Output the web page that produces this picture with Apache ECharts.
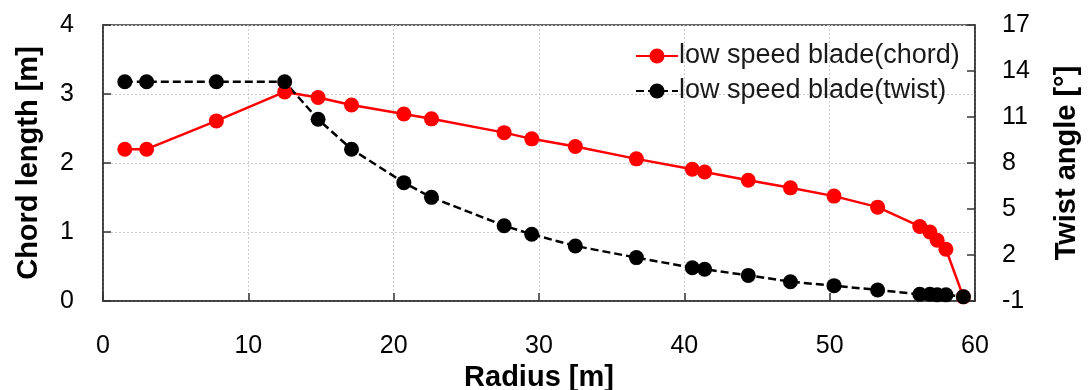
<!DOCTYPE html>
<html><head><meta charset="utf-8">
<script src="https://cdn.jsdelivr.net/npm/echarts@6/dist/echarts.min.js"></script>
<style>html,body{margin:0;padding:0;background:#fff}#c{width:1088px;height:390px}</style>
</head><body><div id="c"></div>
<script>
const radius = [1.5, 3.0, 7.8, 12.5, 14.8, 17.1, 20.7, 22.6, 27.6, 29.5, 32.5, 36.7, 40.55, 41.4, 44.4, 47.3, 50.3, 53.3, 56.2, 56.9, 57.4, 58.0, 59.2];
const chord = [2.20, 2.20, 2.61, 3.03, 2.95, 2.84, 2.71, 2.64, 2.44, 2.35, 2.24, 2.06, 1.91, 1.87, 1.75, 1.64, 1.52, 1.36, 1.08, 1.00, 0.88, 0.75, 0.06];
const twist = [13.3, 13.3, 13.3, 13.3, 10.85, 8.9, 6.72, 5.76, 3.91, 3.35, 2.59, 1.83, 1.17, 1.07, 0.67, 0.26, 0.0, -0.28, -0.56, -0.56, -0.6, -0.6, -0.72];
const seriesNames = ['low speed blade(chord)', 'low speed blade(twist)'];

const font = "'Liberation Sans', Arial, sans-serif";
const chart = echarts.init(document.getElementById('c'), null, {renderer: 'canvas'});
const pairs = (xs, ys) => xs.map((x, i) => [x, ys[i]]);
chart.setOption({
  animation: false,
  backgroundColor: '#fff',
  grid: {left: 103, right: 113, top: 25, bottom: 89, containLabel: false, outerBoundsMode: 'none',
         show: true, borderColor: '#333', borderWidth: 1.5, backgroundColor: 'transparent'},
  legend: {
    orient: 'vertical', left: 630, top: 36, itemGap: 5, itemWidth: 42, itemHeight: 19,
    textStyle: {fontFamily: font, fontSize: 27, lineHeight: 30, color: '#1a1a1a', padding: [0, 0, 0, -4]},
    data: seriesNames
  },
  xAxis: {
    type: 'value', min: 0, max: 60, interval: 10,
    name: 'Radius [m]', nameLocation: 'middle', nameGap: 58,
    nameTextStyle: {fontFamily: font, fontSize: 29, fontWeight: 'bold', color: '#000'},
    axisLine: {lineStyle: {color: '#333', width: 1.5}},
    axisTick: {inside: true, length: 8, lineStyle: {color: '#333', width: 1.5}},
    axisLabel: {fontFamily: font, fontSize: 25, color: '#000', margin: 33},
    splitLine: {show: true, lineStyle: {color: '#ccc', type: [2, 2], width: 1}}
  },
  yAxis: [{
    type: 'value', min: 0, max: 4, interval: 1, position: 'left',
    name: 'Chord length [m]', nameLocation: 'middle', nameGap: 60, nameRotate: 90,
    nameTextStyle: {fontFamily: font, fontSize: 29, fontWeight: 'bold', color: '#000'},
    axisLine: {show: true, lineStyle: {color: '#333', width: 1.5}},
    axisTick: {show: true, inside: true, length: 8, lineStyle: {color: '#333', width: 1.5}},
    axisLabel: {fontFamily: font, fontSize: 25, color: '#000', margin: 29},
    splitLine: {show: true, lineStyle: {color: '#ccc', type: [2, 2], width: 1}}
  }, {
    type: 'value', min: -1, max: 17, interval: 3, position: 'right',
    name: 'Twist angle [°]', nameLocation: 'middle', nameGap: 77, nameRotate: 90,
    nameTextStyle: {fontFamily: font, fontSize: 29, fontWeight: 'bold', color: '#000'},
    axisLine: {show: true, lineStyle: {color: '#333', width: 1.5}},
    axisTick: {show: true, inside: true, length: 8, lineStyle: {color: '#333', width: 1.5}},
    axisLabel: {fontFamily: font, fontSize: 25, color: '#000', margin: 27},
    splitLine: {show: false}
  }],
  series: [{
    name: seriesNames[0], type: 'line', yAxisIndex: 0,
    data: pairs(radius, chord),
    symbol: 'circle', symbolSize: 15,
    itemStyle: {color: '#ff0000'},
    lineStyle: {color: '#ff0000', width: 2.5}
  }, {
    name: seriesNames[1], type: 'line', yAxisIndex: 1,
    data: pairs(radius, twist),
    symbol: 'circle', symbolSize: 15,
    itemStyle: {color: '#000'},
    lineStyle: {color: '#000', width: 2.5, type: [8, 4]}
  }]
});
</script></body></html>
